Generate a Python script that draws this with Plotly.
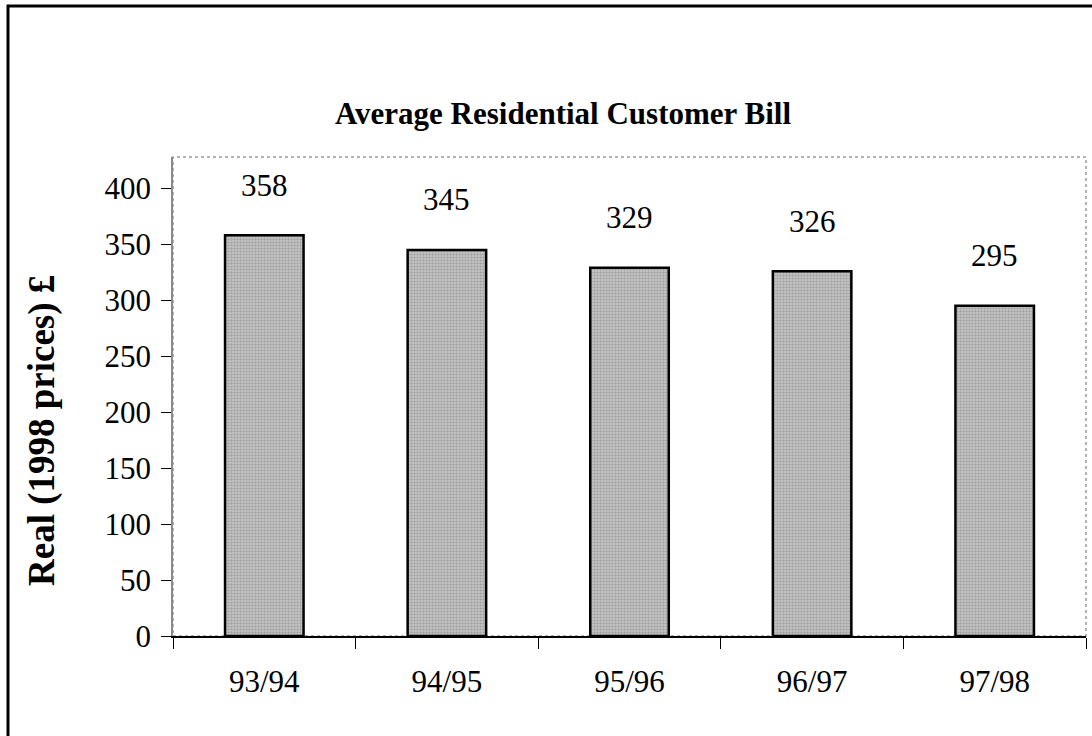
import plotly.graph_objects as go

categories = ["93/94", "94/95", "95/96", "96/97", "97/98"]
values = [358, 345, 329, 326, 295]
y_ticks = [0, 50, 100, 150, 200, 250, 300, 350, 400]

title_text = "Average Residential Customer Bill"
y_title = "Real (1998 prices) £"

W, H = 1092, 736
L, R, T, B = 173, 6, 157, 100
pw, ph = W - L - R, H - T - B

def px_x(px):
    return (px - L) / pw

def px_y(py):
    return (H - B - py) / ph

FONT = "Liberation Serif"

fig = go.Figure()
fig.add_trace(go.Bar(
    x=categories, y=values, width=0.43,
    marker=dict(
        color="#b0b0b0",
        line=dict(color="black", width=2.5),
        pattern=dict(shape=".", fgcolor="#7c7c7c", bgcolor="#cacaca", size=3, solidity=0.5),
    ),
    hoverinfo="skip",
))

for c, v in zip(categories, values):
    fig.add_annotation(x=c, y=v, text=str(v), showarrow=False, yshift=50,
                       yanchor="middle", font=dict(family=FONT, size=31, color="black"))

fig.add_annotation(xref="paper", yref="paper", x=px_x(563), y=px_y(113), text="<b>%s</b>" % title_text,
                   showarrow=False, xanchor="center", yanchor="middle",
                   font=dict(family=FONT, size=31, color="black"))

fig.add_annotation(xref="paper", yref="paper", x=px_x(42), y=px_y(431), text="<b>%s</b>" % y_title,
                   showarrow=False, xanchor="center", yanchor="middle", textangle=-90,
                   font=dict(family=FONT, size=37, color="black"))

# plot area border (light dotted)
fig.add_shape(type="rect", xref="paper", yref="paper", x0=0, x1=1, y0=0, y1=1,
              line=dict(color="#9a9a9a", width=1.5, dash="dot"), layer="below")
# outer frame (left and top edges visible)
fig.add_shape(type="rect", xref="paper", yref="paper", x0=px_x(8), x1=px_x(1200), y0=px_y(900), y1=px_y(6),
              line=dict(color="black", width=3))

fig.update_layout(
    width=W, height=H,
    margin=dict(l=L, r=R, t=T, b=B),
    paper_bgcolor="white", plot_bgcolor="white",
    showlegend=False, bargap=0.57,
    font=dict(family=FONT, color="black"),
)
fig.update_xaxes(
    showline=True, linecolor="black", linewidth=1.5,
    ticks="outside", tickson="boundaries", ticklen=11, tickcolor="black", tickwidth=1,
    tickfont=dict(family=FONT, size=31, color="black"), ticklabelstandoff=17,
    showgrid=False,
)
fig.update_yaxes(
    range=[0, 428], tickvals=y_ticks, ticktext=[str(t) for t in y_ticks],
    showline=True, linecolor="#8a8a8a", linewidth=1.5,
    ticks="outside", ticklen=10, tickcolor="black", tickwidth=1,
    tickfont=dict(family=FONT, size=31, color="black"), ticklabelstandoff=4,
    showgrid=False, zeroline=False,
)

fig.write_html("out.html")
